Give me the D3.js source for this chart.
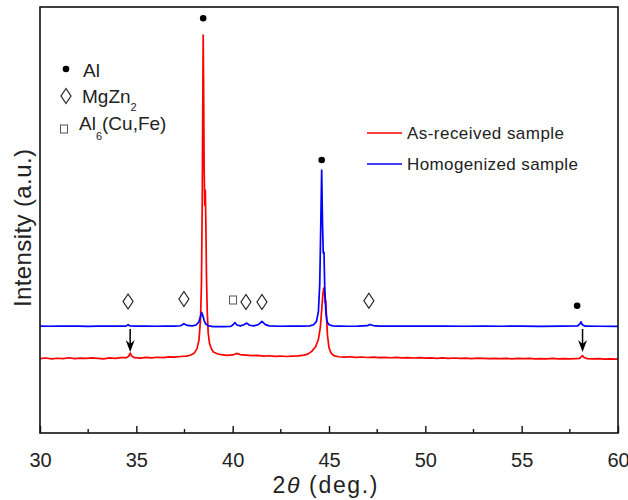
<!DOCTYPE html>
<html>
<head>
<meta charset="utf-8">
<script src="https://cdn.jsdelivr.net/npm/d3@7"></script>
<style>
  body { margin: 0; background: #fff; }
  svg { display: block; font-family: "Liberation Sans", Arial, sans-serif; }
</style>
</head>
<body>
<svg id="xrd-chart" width="628" height="500"></svg>
<script>
// [2theta, intensity]
const asReceived = [
  [30.0,1745],[30.3,1760],[30.6,1742],[30.9,1755],[31.2,1748],[31.5,1766],[31.8,1744],[32.1,1758],
  [32.4,1750],[32.7,1764],[33.0,1752],[33.3,1742],[33.6,1762],[33.9,1754],[34.2,1768],[34.5,1770],
  [34.6,1800],[34.68,1875],[34.76,1805],[34.9,1768],[35.2,1758],[35.5,1776],[35.8,1762],[36.1,1778],
  [36.4,1770],[36.7,1786],[37.0,1780],[37.3,1796],[37.6,1806],[37.8,1826],[38.0,1870],[38.15,1980],
  [38.25,2180],[38.33,2650],[38.38,3500],[38.42,5400],[38.45,7800],[38.47,9340],[38.49,8300],[38.52,6200],
  [38.55,5350],[38.58,5700],[38.61,4900],[38.64,3700],[38.68,2850],[38.73,2350],[38.8,2100],[38.9,1970],
  [39.0,1900],[39.2,1860],[39.4,1838],[39.7,1822],[40.0,1832],[40.2,1868],[40.4,1840],[40.7,1826],
  [41.0,1815],[41.3,1822],[41.6,1806],[41.9,1814],[42.2,1798],[42.5,1808],[42.8,1796],[43.1,1804],
  [43.4,1812],[43.7,1828],[43.9,1852],[44.1,1915],[44.3,2020],[44.45,2200],[44.55,2480],[44.62,2880],
  [44.68,3250],[44.73,3404],[44.77,3300],[44.8,3060],[44.83,3110],[44.87,2750],[44.92,2300],[45.0,2000],
  [45.1,1880],[45.25,1815],[45.5,1790],[45.8,1782],[46.1,1790],[46.4,1776],[46.7,1784],[47.0,1772],
  [47.3,1780],[47.6,1770],[47.9,1776],[48.2,1766],[48.5,1774],[48.8,1762],[49.1,1770],[49.4,1760],
  [49.7,1768],[50.0,1758],[50.3,1764],[50.6,1752],[50.9,1762],[51.2,1754],[51.5,1760],[51.8,1750],
  [52.1,1758],[52.4,1748],[52.7,1756],[53.0,1750],[53.3,1744],[53.6,1754],[53.9,1746],[54.2,1752],
  [54.5,1742],[54.8,1750],[55.1,1744],[55.4,1752],[55.7,1740],[56.0,1748],[56.3,1742],[56.6,1750],
  [56.9,1740],[57.2,1746],[57.5,1738],[57.8,1748],[58.0,1752],[58.1,1790],[58.16,1815],[58.24,1772],
  [58.4,1745],[58.7,1738],[59.0,1746],[59.3,1736],[59.6,1742],[59.9,1734],[60.0,1738]
];

const homogenized = [
  [30.0,2510],[30.5,2506],[31.0,2512],[31.5,2508],[32.0,2511],[32.5,2505],[33.0,2510],[33.5,2507],
  [34.0,2511],[34.45,2509],[34.57,2540],[34.68,2512],[35.0,2507],[35.5,2510],[36.0,2506],[36.5,2511],
  [37.0,2509],[37.3,2518],[37.47,2565],[37.65,2525],[37.9,2514],[38.1,2535],[38.25,2610],[38.33,2740],
  [38.39,2830],[38.45,2760],[38.52,2640],[38.6,2560],[38.75,2515],[39.0,2498],[39.5,2496],[39.9,2502],
  [40.02,2540],[40.12,2590],[40.22,2535],[40.4,2515],[40.58,2540],[40.73,2580],[40.88,2530],[41.1,2515],
  [41.35,2548],[41.52,2620],[41.7,2545],[41.9,2514],[42.5,2506],[43.0,2509],[43.5,2510],[44.0,2516],
  [44.2,2540],[44.35,2620],[44.45,2850],[44.52,3500],[44.57,4800],[44.62,6174],[44.66,5000],[44.7,4225],
  [44.74,4240],[44.78,3400],[44.84,2820],[44.9,2610],[45.0,2540],[45.2,2515],[45.5,2510],[46.0,2506],
  [46.5,2510],[47.0,2520],[47.12,2548],[47.3,2522],[47.6,2510],[48.0,2508],[49.0,2510],[50.0,2507],
  [51.0,2510],[52.0,2506],[53.0,2509],[54.0,2506],[55.0,2508],[56.0,2505],[57.0,2508],[57.9,2512],
  [58.02,2560],[58.08,2610],[58.15,2540],[58.3,2508],[59.0,2506],[60.0,2505]
];

// phase markers [2theta, intensity]
const alMarks = [[38.47, 9735], [44.62, 6408], [57.88, 2988]];
const mgZn2Marks = [[34.57, 3087], [37.47, 3146], [40.69, 3075], [41.52, 3075], [47.07, 3105]];
const al6Marks = [[40.02, 3122]];
// arrows [2theta, from intensity, to intensity]
const arrowMarks = [[34.68, 2441, 1901], [58.16, 2441, 1901]];

const majorTicks = [30, 35, 40, 45, 50, 55, 60];
const minorTicks = [32.5, 37.5, 42.5, 47.5, 52.5, 57.5];

const seriesNames = ["As-received sample", "Homogenized sample"];
const seriesColors = ["#ff0000", "#0000ff"];

const svg = d3.select("#xrd-chart");
const margin = { top: 7, right: 10, bottom: 67, left: 40 };
const plotRight = 618;
const plotBottom = 433;

const xScale = d3.scaleLinear().domain([30, 60]).range([margin.left, plotRight]);
const yScale = d3.scaleLinear().domain([0, 10000]).range([plotBottom, margin.top]);

const line = d3.line()
    .x(d => xScale(d[0]))
    .y(d => yScale(d[1]));

// series
[asReceived, homogenized].forEach((series, i) => {
    svg.append("path")
        .datum(series)
        .attr("d", line)
        .attr("fill", "none")
        .attr("stroke", seriesColors[i])
        .attr("stroke-width", 1.7)
        .attr("stroke-linejoin", "round");
});

// frame
svg.append("rect")
    .attr("x", margin.left)
    .attr("y", margin.top)
    .attr("width", plotRight - margin.left)
    .attr("height", plotBottom - margin.top)
    .attr("fill", "none")
    .attr("stroke", "#111")
    .attr("stroke-width", 1.6);

// x axis, ticks pointing inward
const xAxis = svg.append("g")
    .attr("transform", `translate(0, ${plotBottom})`)
    .call(d3.axisBottom(xScale).tickValues(majorTicks).tickSizeInner(-7).tickSizeOuter(0).tickPadding(20));
xAxis.select(".domain").remove();
xAxis.selectAll(".tick line").attr("stroke", "#111").attr("stroke-width", 1.4);
xAxis.selectAll(".tick text")
    .attr("fill", "#222")
    .style("font-size", "20px")
    .attr("font-family", "Liberation Sans, Arial, sans-serif");

svg.append("g")
    .selectAll("line")
    .data(minorTicks)
    .enter()
    .append("line")
    .attr("x1", d => xScale(d))
    .attr("x2", d => xScale(d))
    .attr("y1", plotBottom)
    .attr("y2", plotBottom - 4)
    .attr("stroke", "#111")
    .attr("stroke-width", 1.4);

// axis titles
const xTitle = svg.append("text")
    .attr("x", 325)
    .attr("y", 493)
    .attr("text-anchor", "middle")
    .attr("fill", "#222")
    .style("font-size", "23px")
    .attr("textLength", 105)
    .attr("lengthAdjust", "spacing");
xTitle.append("tspan").text("2");
xTitle.append("tspan").style("font-style", "italic").text("\u03b8");
xTitle.append("tspan").text(" (deg.)");

svg.append("text")
    .attr("transform", "translate(31, 228) rotate(-90)")
    .attr("text-anchor", "middle")
    .attr("fill", "#222")
    .style("font-size", "24px")
    .attr("textLength", 158)
    .attr("lengthAdjust", "spacing")
    .text("Intensity (a.u.)");

// phase markers
function drawDot(g, x, y) {
    g.append("circle").attr("cx", x).attr("cy", y).attr("r", 3.3).attr("fill", "#000");
}
function drawDiamond(g, x, y) {
    g.append("path")
        .attr("d", `M${x},${y - 7.5} L${x + 5},${y} L${x},${y + 7.5} L${x - 5},${y} Z`)
        .attr("fill", "none")
        .attr("stroke", "#222")
        .attr("stroke-width", 1.2);
}
function drawSquare(g, x, y) {
    g.append("rect")
        .attr("x", x - 3.5).attr("y", y - 4)
        .attr("width", 7).attr("height", 8)
        .attr("fill", "none")
        .attr("stroke", "#555")
        .attr("stroke-width", 1);
}

const markG = svg.append("g");
alMarks.forEach(d => drawDot(markG, xScale(d[0]), yScale(d[1])));
mgZn2Marks.forEach(d => drawDiamond(markG, xScale(d[0]), yScale(d[1])));
al6Marks.forEach(d => drawSquare(markG, xScale(d[0]), yScale(d[1])));

arrowMarks.forEach(d => {
    const x = xScale(d[0]);
    const y1 = yScale(d[1]);
    const y2 = yScale(d[2]);
    markG.append("line")
        .attr("x1", x).attr("x2", x)
        .attr("y1", y1).attr("y2", y2 - 5)
        .attr("stroke", "#000")
        .attr("stroke-width", 1.5);
    markG.append("path")
        .attr("d", `M${x},${y2} L${x - 4.5},${y2 - 12} L${x},${y2 - 8} L${x + 4.5},${y2 - 12} Z`)
        .attr("fill", "#000");
});

// phase legend (top left)
const phaseLegend = svg.append("g");
drawDot(phaseLegend, 66, 69);
drawDiamond(phaseLegend, 66, 96);
drawSquare(phaseLegend, 64, 129);

phaseLegend.append("text")
    .attr("x", 83).attr("y", 77)
    .attr("fill", "#222")
    .style("font-size", "19px")
    .text("Al");

const mgText = phaseLegend.append("text")
    .attr("x", 82).attr("y", 103)
    .attr("fill", "#222")
    .style("font-size", "19px");
mgText.append("tspan").text("MgZn");
mgText.append("tspan").attr("dy", 8).style("font-size", "11px").text("2");

const alText = phaseLegend.append("text")
    .attr("x", 79).attr("y", 130)
    .attr("fill", "#222")
    .style("font-size", "19px");
alText.append("tspan").text("Al");
alText.append("tspan").attr("dy", 10).style("font-size", "11px").text("6");
alText.append("tspan").attr("dy", -10).text("(Cu,Fe)");

// series legend
const seriesLegend = svg.append("g");
const legendRows = [133, 164];
const legendWidths = [157, 171];
seriesNames.forEach((name, i) => {
    seriesLegend.append("line")
        .attr("x1", 367).attr("x2", 402)
        .attr("y1", legendRows[i]).attr("y2", legendRows[i])
        .attr("stroke", seriesColors[i])
        .attr("stroke-width", 1.5);
    seriesLegend.append("text")
        .attr("x", 407)
        .attr("y", legendRows[i] + 6)
        .attr("fill", "#222")
        .style("font-size", "17px")
        .attr("textLength", legendWidths[i])
        .attr("lengthAdjust", "spacing")
        .text(name);
});
</script>
</body>
</html>
